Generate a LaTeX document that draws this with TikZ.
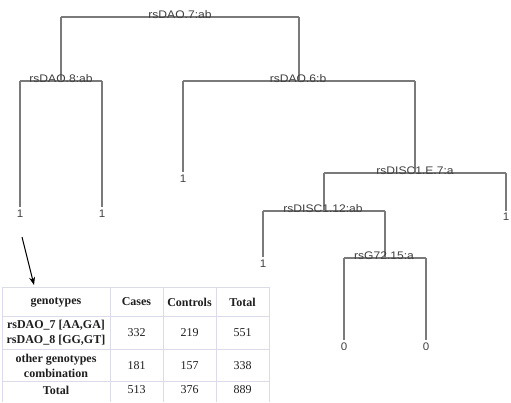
\documentclass[tikz,border=0pt]{standalone}
\usepackage{fontspec}
\setmainfont{Liberation Serif}
\newfontfamily\arialf{Liberation Sans}
\usetikzlibrary{arrows.meta}
\definecolor{treegray}{HTML}{7A7A7A}
\definecolor{labgray}{HTML}{404040}
\definecolor{gridc}{HTML}{DCDCE8}
\definecolor{txt}{HTML}{1E1E1E}
\tikzset{
  branch/.style={draw=treegray, line width=1.1pt},
  splitlab/.style={text=labgray, font=\arialf\fontsize{11}{13}\selectfont, xscale=1.1, anchor=base, inner sep=0pt},
  leaflab/.style={text=labgray, font=\arialf\fontsize{11}{13}\selectfont, xscale=1.05, anchor=north, inner sep=0pt},
  gridline/.style={draw=gridc, line width=0.8pt},
  headcell/.style={text=txt, font=\bfseries\fontsize{12}{14}\selectfont, inner sep=0pt, align=center},
  labcell/.style={text=txt, font=\bfseries\fontsize{12}{15}\selectfont, inner sep=0pt, align=center},
  numcell/.style={text=txt, font=\fontsize{12}{14}\selectfont, inner sep=0pt},
  pointer/.style={draw=black, line width=1pt, -{Stealth[length=8pt,width=6pt]}}
}
\begin{document}
\begin{tikzpicture}[x=1pt,y=-1pt]
\useasboundingbox (0,0) rectangle (511,402);
% split coordinates
\coordinate (rL) at (61,17);  \coordinate (rR) at (299,17);
\coordinate (a) at (61,81);   \coordinate (aL) at (20,81);   \coordinate (aR) at (102,81);
\coordinate (b) at (299,81);  \coordinate (bL) at (183,81);  \coordinate (bR) at (415,81);
\coordinate (c) at (415,173); \coordinate (cL) at (324,173); \coordinate (cR) at (506,173);
\coordinate (d) at (324,211); \coordinate (dL) at (263,211); \coordinate (dR) at (385,211);
\coordinate (e) at (385,258); \coordinate (eL) at (344,258); \coordinate (eR) at (426,258);
% leaves
\coordinate (l1) at (20,207);  \coordinate (l2) at (102,207);
\coordinate (l3) at (183,172);
\coordinate (l4) at (506,211);
\coordinate (l5) at (263,257);
\coordinate (l6) at (344,340); \coordinate (l7) at (426,340);
% branches
\draw[branch] (rL) -- (rR) (rL) -- (a) (rR) -- (b);
\draw[branch] (aL) -- (aR) (aL) -- (l1) (aR) -- (l2);
\draw[branch] (bL) -- (bR) (bL) -- (l3) (bR) -- (c);
\draw[branch] (cL) -- (cR) (cL) -- (d) (cR) -- (l4);
\draw[branch] (dL) -- (dR) (dL) -- (l5) (dR) -- (e);
\draw[branch] (eL) -- (eR) (eL) -- (l6) (eR) -- (l7);
% split labels
\node[splitlab] (s1) at (180,18) {rsDAO.7:ab};
\node[splitlab] (s2) at (61,82) {rsDAO.8:ab};
\node[splitlab] (s3) at (298,82) {rsDAO.6:b};
\node[splitlab] (s4) at (415,174) {rsDISC1.E.7:a};
\node[splitlab] (s5) at (323,212) {rsDISC1.12:ab};
\node[splitlab] (s6) at (384,259) {rsG72.15:a};
% leaf labels
\node[leaflab] (t1) at ([yshift=-3pt]l1) {1};
\node[leaflab] (t2) at ([yshift=-3pt]l2) {1};
\node[leaflab] (t3) at ([yshift=-3pt]l3) {1};
\node[leaflab] (t4) at ([yshift=-2pt]l4) {1};
\node[leaflab] (t5) at ([yshift=-3pt]l5) {1};
\node[leaflab] (t6) at ([yshift=-3pt]l6) {0};
\node[leaflab] (t7) at ([yshift=-3pt]l7) {0};
% arrow
\coordinate (p0) at (22,237);
\coordinate (p1) at (34,285);
\draw[pointer] (p0) -- (p1);
% table grid
\draw[gridline] (2,287) -- (269,287);
\draw[gridline] (2,316) -- (269,316);
\draw[gridline] (2,349) -- (269,349);
\draw[gridline] (2,381) -- (269,381);
\foreach \gx in {2,110,163,216,269} \draw[gridline] (\gx,287) -- (\gx,402);
% table content
\node[headcell] (h1) at (56,302) {genotypes};
\node[headcell] (h2) at (136.5,302) {Cases};
\node[headcell] (h3) at (189.5,302) {Controls};
\node[headcell] (h4) at (242.5,302) {Total};
\node[labcell] (r1) at (56,333) {rsDAO\_7 [AA,GA]\\rsDAO\_8 [GG,GT]};
\node[numcell] (r1a) at (136.5,333) {332};
\node[numcell] (r1b) at (189.5,333) {219};
\node[numcell] (r1c) at (242.5,333) {551};
\node[labcell] (r2) at (56,365.5) {other genotypes\\combination};
\node[numcell] (r2a) at (136.5,366) {181};
\node[numcell] (r2b) at (189.5,366) {157};
\node[numcell] (r2c) at (242.5,366) {338};
\node[headcell] (r3) at (56,390) {Total};
\node[numcell] (r3a) at (136.5,390) {513};
\node[numcell] (r3b) at (189.5,390) {376};
\node[numcell] (r3c) at (242.5,390) {889};
\end{tikzpicture}
\end{document}
